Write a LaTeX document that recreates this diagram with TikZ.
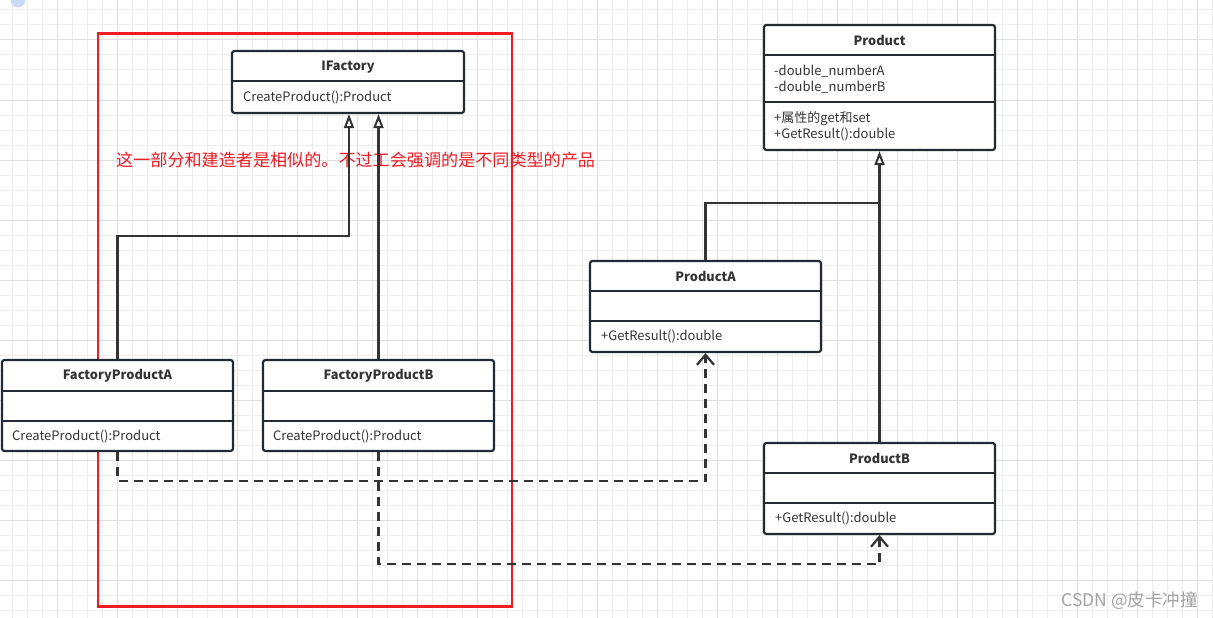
\documentclass[tikz,border=0pt]{standalone}
\usepackage{fontspec}
\setmainfont{Noto Sans CJK SC}
\usetikzlibrary{arrows.meta}
\definecolor{boxc}{HTML}{222A33}
\definecolor{linec}{HTML}{333333}
\definecolor{txtc}{HTML}{333333}
\definecolor{redc}{HTML}{EE1C25}
\definecolor{gridminor}{HTML}{EDEDED}
\definecolor{gridmajor}{HTML}{DFDFDF}
\definecolor{iconc}{HTML}{C9DCF7}
\tikzset{
  classbox/.style={draw=boxc, line width=2.2pt, rounded corners=2.5pt, fill=white, inner sep=0pt},
  divline/.style={draw=boxc, line width=2.2pt},
  ctitle/.style={font=\fontsize{12.8}{15}\selectfont\bfseries, text=txtc, inner sep=0pt},
  cmember/.style={font=\fontsize{13}{16}\selectfont, text=txtc, inner sep=0pt, anchor=west, align=left},
  inh/.style={draw=linec, line width=2.2pt, -{Triangle[open, width=10pt, length=14pt, line width=2pt]}},
  plain/.style={draw=linec, line width=2.2pt},
  dep/.style={draw=linec, line width=2.2pt, dash pattern=on 9pt off 6pt, -{Straight Barb[length=10pt, width=17pt, line width=2.2pt]}},
}
\begin{document}
\begin{tikzpicture}[x=1pt,y=-1pt]
\useasboundingbox (0,0) rectangle (1213,618);
\fill[white] (0,0) rectangle (1213,618);
% grid
\foreach \k in {0,...,80} {\draw[gridminor, line width=1pt] ({12+15*\k},0) -- ({12+15*\k},618);}
\foreach \k in {0,...,41} {\draw[gridminor, line width=1pt] (0,{10+15*\k}) -- (1213,{10+15*\k});}
\foreach \k in {0,...,20} {\draw[gridmajor, line width=1pt] ({-3+60*\k},0) -- ({-3+60*\k},618);}
\foreach \k in {0,...,10} {\draw[gridmajor, line width=1pt] (0,{-20+60*\k}) -- (1213,{-20+60*\k});}
% top-left icon
\fill[iconc] (18,0) circle (7.5);

% red frame
\node[draw=redc, line width=2.2pt, minimum width=414pt, minimum height=573pt, inner sep=0pt] (frame) at (305,320) {};
\node[text=redc, font=\fontsize{17.1}{19}\selectfont, anchor=west, inner sep=0pt] (note) at (116,160) {这一部分和建造者是相似的。不过工会强调的是不同类型的产品};

% IFactory
\node[classbox, minimum width=232pt, minimum height=62pt] (ifac) at (348,82) {};
\draw[divline] (ifac.west |- 0,81) -- (ifac.east |- 0,81);
\node[ctitle] (ifac-t) at (348,67) {IFactory};
\node[cmember] (ifac-m) at (243,97) {CreateProduct():Product};

% Product
\node[classbox, minimum width=231pt, minimum height=125pt] (prod) at (879.5,87.5) {};
\draw[divline] (prod.west |- 0,55) -- (prod.east |- 0,55);
\draw[divline] (prod.west |- 0,102) -- (prod.east |- 0,102);
\node[ctitle] (prod-t) at (879.5,40) {Product};
\node[cmember] (prod-a) at (774,79.5) {-double\_numberA\\-double\_numberB};
\node[cmember] (prod-m) at (774,126) {+属性的get和set\\+GetResult():double};

% FactoryProductA
\node[classbox, minimum width=231pt, minimum height=91pt] (fpa) at (117.5,405.5) {};
\draw[divline] (fpa.west |- 0,391) -- (fpa.east |- 0,391);
\draw[divline] (fpa.west |- 0,421) -- (fpa.east |- 0,421);
\node[ctitle] (fpa-t) at (117.5,376) {FactoryProductA};
\node[cmember] (fpa-m) at (12,436) {CreateProduct():Product};

% FactoryProductB
\node[classbox, minimum width=231pt, minimum height=91pt] (fpb) at (378.5,405.5) {};
\draw[divline] (fpb.west |- 0,391) -- (fpb.east |- 0,391);
\draw[divline] (fpb.west |- 0,421) -- (fpb.east |- 0,421);
\node[ctitle] (fpb-t) at (378.5,376) {FactoryProductB};
\node[cmember] (fpb-m) at (273,436) {CreateProduct():Product};

% ProductA
\node[classbox, minimum width=231pt, minimum height=91pt] (pa) at (705.5,306.5) {};
\draw[divline] (pa.west |- 0,291) -- (pa.east |- 0,291);
\draw[divline] (pa.west |- 0,321) -- (pa.east |- 0,321);
\node[ctitle] (pa-t) at (705.5,276) {ProductA};
\node[cmember] (pa-m) at (601,336) {+GetResult():double};

% ProductB
\node[classbox, minimum width=231pt, minimum height=91pt] (pb) at (879.5,488.5) {};
\draw[divline] (pb.west |- 0,473) -- (pb.east |- 0,473);
\draw[divline] (pb.west |- 0,503) -- (pb.east |- 0,503);
\node[ctitle] (pb-t) at (879.5,458) {ProductB};
\node[cmember] (pb-m) at (775,518) {+GetResult():double};

% connectors
\coordinate (jA) at (349,236);
\coordinate (jB) at (879.5,203);
\coordinate (jC) at (400,481);
\coordinate (jD) at (600,564);
\draw[inh] (fpa.north) |- (jA) -- (jA |- ifac.south);
\draw[inh] (fpb.north) -- (fpb.north |- ifac.south);
\draw[plain] (pa.north) |- (jB);
\draw[inh] (pb.north) -- (prod.south);
\draw[dep] (fpa.south) |- (jC) -| (pa.south);
\draw[dep] (fpb.south) |- (jD) -| (pb.south);

% watermark
\node[text=black!36, font=\fontsize{17.5}{19}\selectfont, anchor=east, inner sep=0pt] (wm) at (1198,601) {CSDN @皮卡冲撞};
\end{tikzpicture}
\end{document}
